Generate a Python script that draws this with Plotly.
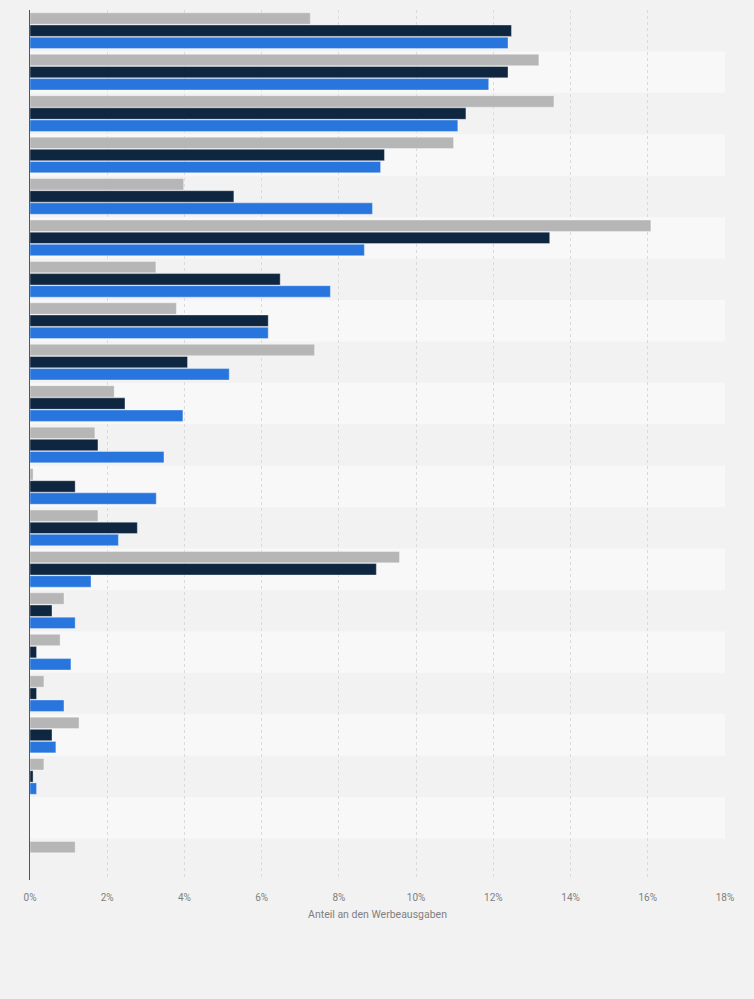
import plotly.graph_objs as go

# categories (no labels shown in the original chart)
categories = ["Kategorie %d" % (i + 1) for i in range(21)]

# share of advertising spend in percent, three series
series_grey = [7.26, 13.18, 13.57, 10.97, 3.98, 16.08, 3.26, 3.79, 7.37, 2.18,
               1.68, 0.08, 1.76, 9.57, 0.88, 0.78, 0.36, 1.27, 0.36, None, 1.17]
series_navy = [12.47, 12.38, 11.29, 9.18, 5.28, 13.46, 6.48, 6.17, 4.08, 2.46,
               1.76, 1.17, 2.78, 8.97, 0.57, 0.17, 0.17, 0.57, 0.08, None, None]
series_blue = [12.38, 11.88, 11.08, 9.08, 8.87, 8.66, 7.78, 6.17, 5.16, 3.96,
               3.47, 3.27, 2.29, 1.58, 1.17, 1.06, 0.88, 0.67, 0.17, None, None]

series_names = ["Reihe 1", "Reihe 2", "Reihe 3"]
x_ticks = list(range(0, 19, 2))

colors = ["#b6b6b6", "#0f2640", "#2876dd"]

fig = go.Figure()
for name, vals, col in zip(series_names, [series_grey, series_navy, series_blue], colors):
    fig.add_trace(go.Bar(
        name=name,
        y=categories,
        x=vals,
        orientation="h",
        marker=dict(color=col, line=dict(color="rgba(255,255,255,0.6)", width=0.6)),
        hovertemplate="%{x:.2f}%<extra></extra>",
    ))

# alternating row stripes
for i in range(len(categories)):
    if i % 2 == 1:
        fig.add_shape(type="rect", xref="paper", yref="y",
                      x0=0, x1=1, y0=i - 0.5, y1=i + 0.5,
                      fillcolor="#f8f8f8", line_width=0, layer="below")

fig.update_layout(
    width=754,
    height=999,
    barmode="group",
    bargap=0.12,
    bargroupgap=0.06,
    showlegend=False,
    paper_bgcolor="#f2f2f2",
    plot_bgcolor="#f2f2f2",
    margin=dict(l=30, r=29, t=10, b=119),
    font=dict(family="Roboto", color="#666666"),
    xaxis=dict(
        range=[0, 18],
        tickvals=x_ticks,
        ticktext=["%d%%" % t for t in x_ticks],
        tickfont=dict(size=10, color="#808080"),
        ticklabelstandoff=10,
        showgrid=True,
        gridcolor="#dadada",
        griddash="dot",
        gridwidth=1,
        zeroline=False,
        title=dict(text="Anteil an den Werbeausgaben",
                   font=dict(size=10.5, color="#808080"), standoff=8),
        ticks="",
    ),
    yaxis=dict(
        autorange="reversed",
        showticklabels=False,
        showgrid=False,
        showline=True,
        linecolor="#555555",
        linewidth=1.2,
        ticks="",
    ),
)

# drop the default page margin so the figure fills the window
fig.write_html("out.html",
               config={"displayModeBar": False},
               post_script="document.body.style.margin='0';"
                           "document.body.style.background='#f2f2f2';")
